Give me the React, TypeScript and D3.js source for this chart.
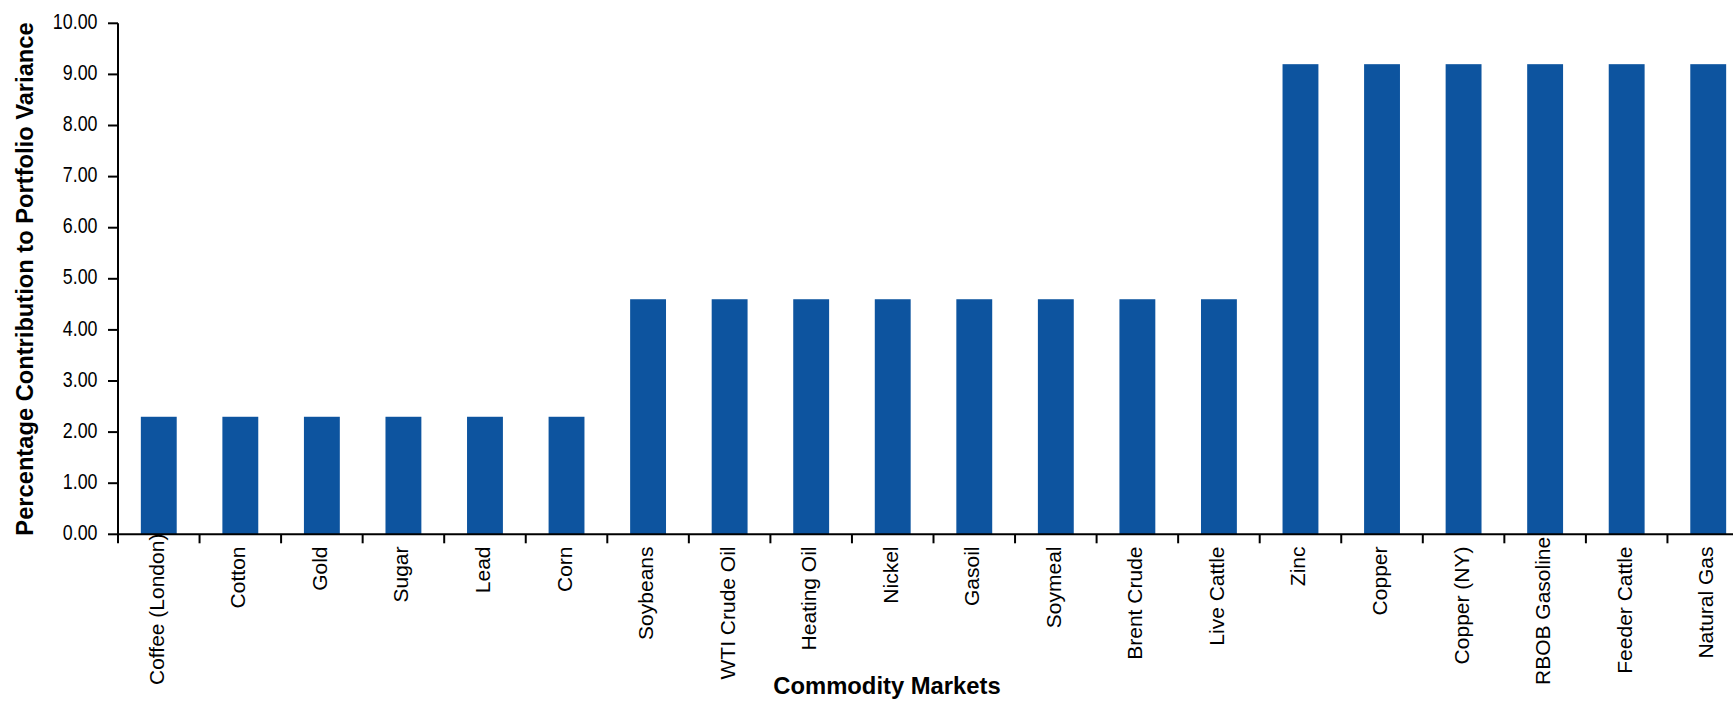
import React, { useEffect, useRef } from "react";
import * as d3 from "d3";

const categories: string[] = [
  "Coffee (London)", "Cotton", "Gold", "Sugar", "Lead", "Corn",
  "Soybeans", "WTI Crude Oil", "Heating Oil", "Nickel", "Gasoil", "Soymeal",
  "Brent Crude", "Live Cattle", "Zinc", "Copper", "Copper (NY)", "RBOB Gasoline",
  "Feeder Cattle", "Natural Gas",
];
const values: number[] = [
  2.3, 2.3, 2.3, 2.3, 2.3, 2.3,
  4.6, 4.6, 4.6, 4.6, 4.6, 4.6, 4.6, 4.6,
  9.2, 9.2, 9.2, 9.2, 9.2, 9.2,
];
const yTicks: number[] = [0, 1, 2, 3, 4, 5, 6, 7, 8, 9, 10];
const yTitle = "Percentage Contribution to Portfolio Variance";
const xTitle = "Commodity Markets";

const W = 1733;
const H = 701;
const x0 = 118;
const bandW = 81.55;
const yTop = 23.3;
const yBase = 534.3;
const barColor = "#0d549f";

export default function App() {
  const ref = useRef<SVGSVGElement | null>(null);

  const x = d3
    .scaleBand<string>()
    .domain(categories)
    .range([x0, x0 + bandW * categories.length])
    .padding(0);
  const y = d3.scaleLinear().domain([0, 10]).range([yBase, yTop]);
  const bw = x.bandwidth() * 0.44;

  useEffect(() => {
    if (!ref.current) return;
    const svg = d3.select(ref.current);
    svg.selectAll<SVGTextElement, string>("text.cat").each(function () {
      const len = this.getComputedTextLength();
      const maxBottom = 685;
      const anchorY = 546.5;
      if (anchorY + len > maxBottom) {
        const cx = +(this.getAttribute("data-x") || 0);
        const ny = maxBottom - len;
        this.setAttribute("transform", `translate(${cx},${ny}) rotate(-90)`);
      }
    });
  }, []);

  return (
    <svg
      ref={ref}
      width={W}
      height={H}
      style={{ position: "absolute", left: 0, top: 0, background: "#fff" }}
      fontFamily="'Liberation Sans', Arial, sans-serif"
    >
      {categories.map((c, i) => (
        <rect
          key={c}
          x={(x(c) as number) + (x.bandwidth() - bw) / 2}
          y={y(values[i])}
          width={bw}
          height={y(0) - y(values[i])}
          fill={barColor}
        />
      ))}
      <line x1={x0} x2={x0} y1={yTop} y2={yBase} stroke="#000" strokeWidth={2} />
      {yTicks.map((t) => (
        <g key={t}>
          <line x1={x0 - 10} x2={x0} y1={y(t)} y2={y(t)} stroke="#000" strokeWidth={2} />
          <text
            transform={`translate(97.5,${y(t) + 5.6}) scale(0.83,1)`}
            textAnchor="end"
            fontSize={21.5}
            fill="#000"
          >
            {t.toFixed(2)}
          </text>
        </g>
      ))}
      <line x1={x0} x2={x0 + bandW * categories.length} y1={yBase} y2={yBase} stroke="#000" strokeWidth={2} />
      {categories.map((c) => (
        <line
          key={"t" + c}
          x1={x(c) as number}
          x2={x(c) as number}
          y1={yBase}
          y2={yBase + 9}
          stroke="#000"
          strokeWidth={2}
        />
      ))}
      {categories.map((c) => {
        const cx = (x(c) as number) + x.bandwidth() / 2 + 5;
        return (
          <text
            key={"l" + c}
            className="cat"
            data-x={cx}
            transform={`translate(${cx},546.5) rotate(-90)`}
            textAnchor="end"
            fontSize={21}
            fill="#000"
          >
            {c}
          </text>
        );
      })}
      <text
        transform={`translate(33,279) rotate(-90)`}
        textAnchor="middle"
        fontSize={23.7}
        fontWeight="bold"
        fill="#000"
      >
        {yTitle}
      </text>
      <text x={887} y={693.5} textAnchor="middle" fontSize={23.8} fontWeight="bold" fill="#000">
        {xTitle}
      </text>
    </svg>
  );
}
